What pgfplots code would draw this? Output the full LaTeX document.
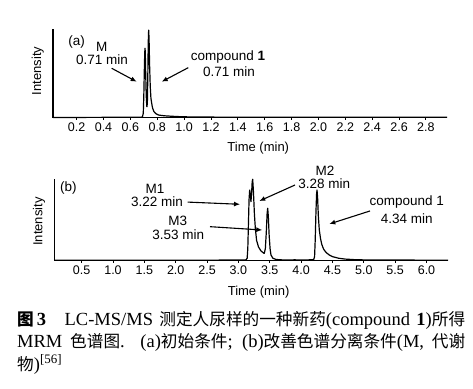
\documentclass[border=0pt]{standalone}
\usepackage{fontspec}
\setmainfont{Liberation Sans}
\newfontfamily\capfont{Liberation Serif}
\newfontfamily\cjk[Scale=0.9]{Noto Sans CJK SC}
\usepackage{pgfplots}
\pgfplotsset{compat=1.18}
\usetikzlibrary{arrows.meta}

\pgfplotsset{chrom/.style={
  scale only axis,
  axis x line*=bottom, axis y line*=left,
  ytick=\empty, ymin=0, ymax=1,
  tick align=outside, major tick length=2pt,
  every tick/.style={black, line width=0.9pt},
  axis line style={line width=1.1pt, black},
  /pgf/number format/assume math mode=true,
  tick label style={font=\fontsize{12.5}{14}\selectfont},
  xticklabel style={/pgf/number format/.cd, fixed, fixed zerofill, precision=1},
  label style={font=\fontsize{13}{15}\selectfont},
  ylabel={Intensity},
  xlabel={Time (min)},
  clip=false,
}}
\tikzset{ann/.style={font=\fontsize{13.5}{15}\selectfont, inner sep=0pt, anchor=center},
  arr/.style={-{Latex[length=6pt,width=5pt]}, line width=1.1pt}}

\begin{document}
\begin{tikzpicture}
\path[use as bounding box] (0,0) rectangle (473pt,388pt);

% ---------- (a) ----------
\begin{axis}[chrom, at={(53pt,270.3pt)}, anchor=south west,
  width=394pt, height=88.4pt, xmin=0.024, xmax=2.957,
  xtick={0.2,0.4,0.6,0.8,1.0,1.2,1.4,1.6,1.8,2.0,2.2,2.4,2.6,2.8},
  ylabel style={at={(axis description cs:-0.0228,0.53)}, anchor=south, inner sep=0pt},
  xlabel style={at={(axis description cs:0.521,0)}, anchor=center, yshift=-30.6pt},
]
\addplot[black, line width=1.2pt, line join=round] coordinates {
(0.024,0.003) (0.2,0.003) (0.4,0.004) (0.6,0.004) (0.68,0.005) (0.690,0.01)
(0.696,0.05) (0.700,0.25) (0.704,0.55) (0.707,0.74) (0.709,0.785) (0.711,0.74)
(0.714,0.50) (0.718,0.25) (0.722,0.13) (0.724,0.124) (0.727,0.2) (0.730,0.5)
(0.733,0.85) (0.736,0.99) (0.739,0.9) (0.743,0.6) (0.748,0.35) (0.753,0.22)
(0.759,0.16) (0.765,0.11) (0.775,0.07) (0.79,0.045) (0.81,0.03) (0.85,0.022)
(0.9,0.017) (0.95,0.013) (1.0,0.01) (1.1,0.008) (1.3,0.006) (1.6,0.005)
(2.0,0.004) (2.5,0.004) (2.957,0.004)
};
\node[ann] at (axis cs:0.200,0.860) {(a)};
\node[ann] at (axis cs:0.386,0.803) {M};
\node[ann] at (axis cs:0.389,0.653) {0.71 min};
\draw[arr] (axis cs:0.461,0.559) -- (axis cs:0.647,0.407);
\node[ann] at (axis cs:1.327,0.690) {compound \textbf{1}};
\node[ann] at (axis cs:1.334,0.517) {0.71 min};
\draw[arr] (axis cs:1.031,0.566) -- (axis cs:0.833,0.407);
\end{axis}

% ---------- (b) ----------
\begin{axis}[chrom, at={(54.3pt,127.3pt)}, anchor=south west,
  width=393.7pt, height=81.4pt, xmin=0.064, xmax=6.343,
  xtick={0.5,1.0,1.5,2.0,2.5,3.0,3.5,4.0,4.5,5.0,5.5,6.0},
  ylabel style={at={(axis description cs:-0.0228,0.48)}, anchor=south, inner sep=0pt},
  xlabel style={at={(axis description cs:0.519,0)}, anchor=center, yshift=-31pt},
]
\addplot[black, line width=1.2pt, line join=round] coordinates {
(0.064,0.005) (1.0,0.005) (2.0,0.006) (2.5,0.007) (3.0,0.008) (3.12,0.01)
(3.14,0.03) (3.15,0.15) (3.16,0.45) (3.17,0.75) (3.18,0.868) (3.19,0.82)
(3.20,0.725) (3.21,0.82) (3.22,0.97) (3.228,1.0) (3.24,0.85) (3.255,0.58)
(3.27,0.40) (3.29,0.25) (3.32,0.17) (3.36,0.12) (3.40,0.095) (3.413,0.09)
(3.43,0.15) (3.445,0.35) (3.458,0.58) (3.467,0.644) (3.477,0.55) (3.49,0.32)
(3.505,0.15) (3.52,0.07) (3.55,0.03) (3.6,0.015) (3.7,0.01) (3.85,0.008)
(3.9,0.012) (3.93,0.008) (4.0,0.01) (4.1,0.01) (4.2,0.012) (4.215,0.05)
(4.225,0.25) (4.237,0.6) (4.247,0.82) (4.254,0.868) (4.263,0.78) (4.275,0.55)
(4.29,0.38) (4.31,0.27) (4.33,0.2) (4.36,0.14) (4.40,0.10) (4.45,0.07)
(4.5,0.05) (4.6,0.03) (4.7,0.02) (4.85,0.013) (5.0,0.01) (5.5,0.008)
(6.0,0.007) (6.343,0.007)
};
\node[ann] at (axis cs:0.287,0.889) {(b)};
\node[ann] at (axis cs:1.670,0.877) {M1};
\node[ann] at (axis cs:1.702,0.720) {3.22 min};
\draw[arr] (axis cs:2.191,0.720) -- (axis cs:3.026,0.693);
\node[ann] at (axis cs:2.032,0.491) {M3};
\node[ann] at (axis cs:2.041,0.316) {3.53 min};
\draw[arr] (axis cs:2.547,0.418) -- (axis cs:3.381,0.377);
\node[ann] at (axis cs:4.381,1.106) {M2};
\node[ann] at (axis cs:4.370,0.942) {3.28 min};
\draw[arr] (axis cs:3.903,0.930) -- (axis cs:3.333,0.733);
\node[ann] at (axis cs:5.684,0.717) {compound 1};
\node[ann] at (axis cs:5.684,0.521) {4.34 min};
\draw[arr] (axis cs:5.099,0.611) -- (axis cs:4.450,0.451);
\end{axis}

% ---------- caption ----------
\node[anchor=north west, inner sep=0pt, text width=448pt, align=justify,
  font=\capfont\fontsize{18.5}{22.4}\selectfont] at (17pt,77pt)
{{\bfseries\cjk 图}\,\textbf{3}\quad LC-MS/MS {\cjk 测定人尿样的一种新药}(compound \textbf{1}){\cjk 所得}\linebreak
MRM {\cjk 色谱图}. (a){\cjk 初始条件}; (b){\cjk 改善色谱分离条件}(M, {\cjk 代谢}\linebreak
{\cjk 物})\textsuperscript{[56]}};
\end{tikzpicture}
\end{document}
